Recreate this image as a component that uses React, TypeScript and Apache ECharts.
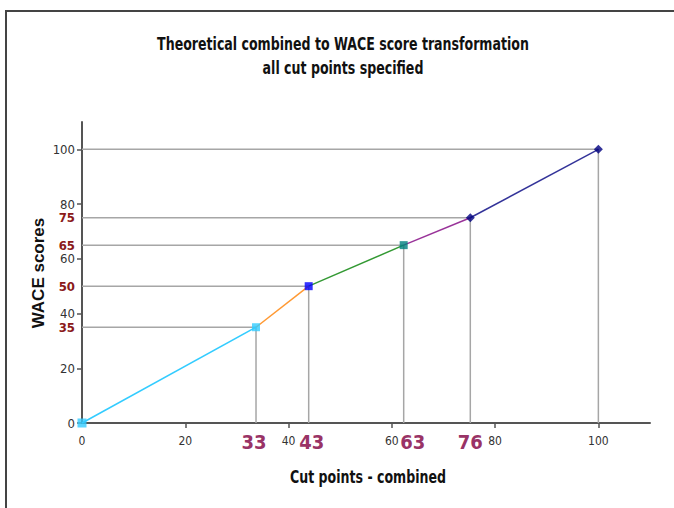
import React, { useEffect, useRef } from "react";
import * as echarts from "echarts";

const pointsX = [0, 33.7, 43.9, 62.3, 75.2, 100];
const pointsY = [0, 35, 50, 65, 75, 100];
const cutX = [33.7, 43.9, 62.3, 75.2];
const cutLabelsX = ["33", "43", "63", "76"];
const cutY = [35, 50, 65, 75];
const xTicks = [0, 20, 40, 60, 80, 100];
const yTicks = [0, 20, 40, 60, 80, 100];
const segmentColors = ["#33CCFF", "#FF9933", "#339933", "#993399", "#333399"];
const markerColors = ["#33CCFF", "#33CCFF", "#0000FF", "#008080", "#000080", "#000080"];
const markerShapes = ["rect", "rect", "rect", "rect", "diamond", "diamond"];

const NARROW = "'Liberation Sans Narrow', 'DejaVu Sans Condensed', Arial, sans-serif";

// per-label nudge styles (rich text keys) for the cut labels on the x axis
const cutLabelStyles = ["cl", "cr1", "cr2", "c0"];

export default function App() {
  const ref = useRef<HTMLDivElement>(null);
  useEffect(() => {
    document.body.style.margin = "0";
    const chart = echarts.init(ref.current!, null, { renderer: "svg" });
    const series: any[] = [];
    for (let i = 1; i < pointsX.length; i++) {
      series.push({
        type: "line",
        data: [[0, pointsY[i]], [pointsX[i], pointsY[i]], [pointsX[i], 0]],
        symbol: "none",
        lineStyle: { color: "#A6A6A6", width: 1.5 },
        z: 1,
        silent: true,
      });
    }
    for (let i = 0; i < segmentColors.length; i++) {
      series.push({
        type: "line",
        data: [[pointsX[i], pointsY[i]], [pointsX[i + 1], pointsY[i + 1]]],
        symbol: "none",
        lineStyle: { color: segmentColors[i], width: 1.5 },
        z: 2,
      });
    }
    series.push({
      type: "scatter",
      data: pointsX.map((x, i) => ({
        value: [x, pointsY[i]],
        symbol: markerShapes[i],
        symbolSize: markerShapes[i] === "diamond" ? 9 : i === 0 ? 9 : 8,
        itemStyle: { color: markerColors[i] },
      })),
      z: 3,
    });

    const cutBase = { color: "#993366", fontSize: 20, fontWeight: "bold", fontFamily: NARROW };

    chart.setOption({
      animation: false,
      backgroundColor: "#fff",
      graphic: [
        {
          type: "rect",
          shape: { x: 6, y: 11, width: 720, height: 560 },
          style: { fill: "none", stroke: "#444", lineWidth: 2 },
          silent: true,
        },
        {
          type: "text",
          x: 343,
          y: 56,
          scaleY: 1.3,
          style: {
            text: "Theoretical combined to WACE score transformation\nall cut points specified",
            font: `bold 14px ${NARROW}`,
            fill: "#111",
            align: "center",
            verticalAlign: "middle",
            lineHeight: 18.5,
          },
        },
        {
          type: "text",
          x: 38,
          y: 273,
          rotation: Math.PI / 2,
          style: {
            text: "WACE scores",
            font: "bold 17px Arial, 'Liberation Sans', sans-serif",
            fill: "#111",
            align: "center",
            verticalAlign: "middle",
          },
        },
        {
          type: "text",
          x: 368,
          y: 477,
          scaleY: 1.3,
          style: {
            text: "Cut points - combined",
            font: `bold 14px ${NARROW}`,
            fill: "#111",
            align: "center",
            verticalAlign: "middle",
          },
        },
      ],
      grid: { left: 82, right: 24, top: 122, bottom: 85 },
      xAxis: [
        {
          type: "value",
          min: 0,
          max: 110,
          splitLine: { show: false },
          axisLine: { lineStyle: { color: "#555", width: 2 } },
          axisTick: { customValues: xTicks.slice(1), length: 5, lineStyle: { color: "#555", width: 1.5 } },
          axisLabel: {
            customValues: xTicks,
            color: "#333",
            fontSize: 12,
            fontFamily: NARROW,
            margin: 12,
          },
        },
        {
          type: "value",
          min: 0,
          max: 110,
          position: "bottom",
          splitLine: { show: false },
          axisLine: { show: false },
          axisTick: { show: false },
          axisLabel: {
            customValues: cutX,
            formatter: (v: number) => {
              const idx = cutX.findIndex((c) => Math.abs(c - v) < 1e-6);
              return idx >= 0 ? `{${cutLabelStyles[idx]}|${cutLabelsX[idx]}}` : "";
            },
            rich: {
              c0: { ...cutBase },
              cl: { ...cutBase, padding: [0, 4, 0, 0] },
              cr1: { ...cutBase, padding: [0, 0, 0, 6] },
              cr2: { ...cutBase, padding: [0, 0, 0, 18] },
            },
            margin: 9,
          },
        },
      ],
      yAxis: [
        {
          type: "value",
          min: 0,
          max: 110,
          splitLine: { show: false },
          axisLine: { show: true, lineStyle: { color: "#555", width: 2 } },
          axisTick: { show: true, customValues: yTicks, length: 5, lineStyle: { color: "#555", width: 1.5 } },
          axisLabel: {
            customValues: yTicks,
            color: "#333",
            fontSize: 13,
            fontFamily: NARROW,
            margin: 7,
          },
        },
        {
          type: "value",
          min: 0,
          max: 110,
          position: "left",
          splitLine: { show: false },
          axisLine: { show: false },
          axisTick: { show: false },
          axisLabel: {
            customValues: cutY,
            color: "#8B1A1A",
            fontSize: 13,
            fontWeight: "bold",
            fontFamily: NARROW,
            margin: 7,
          },
        },
      ],
      series,
    });
    return () => chart.dispose();
  }, []);
  return <div ref={ref} style={{ width: 674, height: 508 }} />;
}
